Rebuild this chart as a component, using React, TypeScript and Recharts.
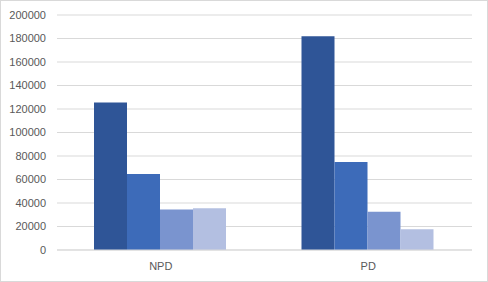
import { Bar, BarChart, CartesianGrid, XAxis, YAxis } from "recharts";

const CATEGORIES = ["NPD", "PD"];
const SERIES_A = [125500, 182000];
const SERIES_B = [64600, 75000];
const SERIES_C = [34500, 32500];
const SERIES_D = [35500, 17700];
const Y_TICKS = [0, 20000, 40000, 60000, 80000, 100000, 120000, 140000, 160000, 180000, 200000];

const COLORS = ["#2F5597", "#3D6BB9", "#7A94CF", "#B3BFE1"];
const GRID = "#D9D9D9";
const TEXT = "#595959";
const FONT = "'Liberation Sans', Arial, sans-serif";

const data = CATEGORIES.map((name, i) => ({
  name,
  a: SERIES_A[i],
  b: SERIES_B[i],
  c: SERIES_C[i],
  d: SERIES_D[i],
}));

export default function App() {
  return (
    <div
      style={{
        position: "fixed",
        left: 0,
        top: 0,
        width: 488,
        height: 282,
        background: "#fff",
        border: `1px solid ${GRID}`,
        boxSizing: "border-box",
      }}
    >
      <div style={{ position: "absolute", left: -1, top: -1 }}>
        <BarChart
          width={488}
          height={282}
          data={data}
          margin={{ top: 15, right: 16, bottom: 0, left: 0 }}
          barCategoryGap={37}
          barGap={0}
        >
          <CartesianGrid vertical={false} stroke={GRID} />
          <XAxis
            dataKey="name"
            height={32}
            tickLine={false}
            axisLine={{ stroke: GRID }}
            tickMargin={6}
            tick={{ fill: TEXT, fontSize: 11, fontFamily: FONT }}
          />
          <YAxis
            width={57}
            domain={[0, 200000]}
            ticks={Y_TICKS}
            interval={0}
            tickLine={false}
            axisLine={false}
            tickMargin={5}
            tick={{ fill: TEXT, fontSize: 11, fontFamily: FONT }}
          />
          <Bar dataKey="a" fill={COLORS[0]} isAnimationActive={false} />
          <Bar dataKey="b" fill={COLORS[1]} isAnimationActive={false} />
          <Bar dataKey="c" fill={COLORS[2]} isAnimationActive={false} />
          <Bar dataKey="d" fill={COLORS[3]} isAnimationActive={false} />
        </BarChart>
      </div>
    </div>
  );
}
